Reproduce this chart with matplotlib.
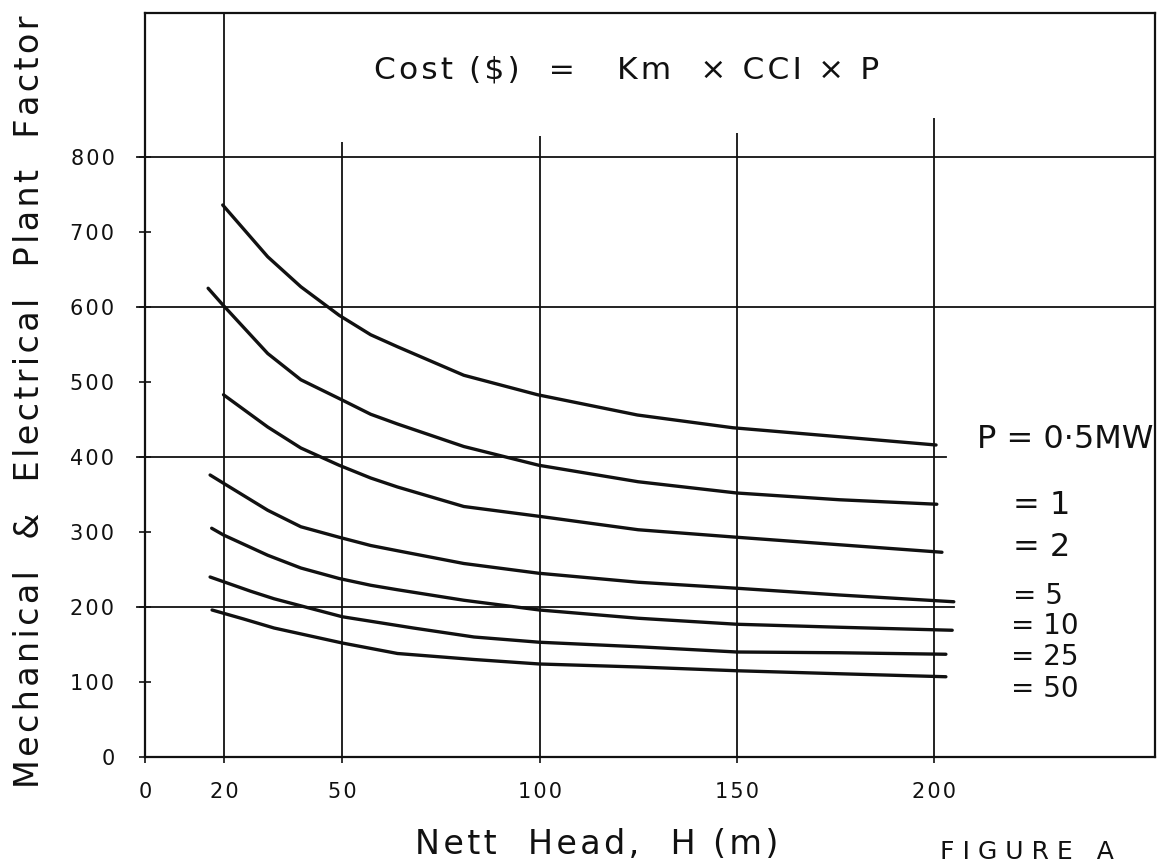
import matplotlib
matplotlib.use('Agg')
import matplotlib.pyplot as plt

# nett head (m) and M&E plant factor
head_05 = [19.7, 31.1, 39.5, 49.2, 57.2, 64, 80.8, 99.5, 124.8, 149, 176, 200.5]
factor_05 = [736, 667, 627, 589, 563, 547, 509, 483, 456, 439, 427, 416]

head_1 = [16, 19.7, 31.1, 39.5, 49.2, 57.2, 64, 80.8, 99.8, 125, 150, 176, 200.7]
factor_1 = [625, 603, 538, 503, 478, 457, 444, 414, 389, 367, 352, 343, 337]

head_2 = [19.9, 31.1, 39.5, 49.2, 57.2, 64, 80.8, 99.8, 125, 150, 176, 202]
factor_2 = [483, 440, 412, 389, 372, 360, 334, 321, 303, 293, 283, 273]

head_5 = [16.5, 19.9, 31.1, 39.5, 49.2, 57.2, 64, 80.8, 99.8, 125, 150, 176, 205]
factor_5 = [376, 365, 329, 307, 293, 282, 275, 258, 245, 233, 225, 216, 207]

head_10 = [16.9, 19.9, 31.1, 39.5, 49.2, 57.2, 64, 80.8, 100, 125, 150, 176, 204.6]
factor_10 = [305, 296, 269, 252, 238, 229, 223, 209, 196, 185, 177, 173, 169]

head_25 = [16.5, 26.8, 32.7, 50, 68, 83.4, 100, 125, 150, 176, 203]
factor_25 = [240, 221, 211, 187, 172, 160, 153, 147, 140, 139, 137]

head_50 = [17, 25, 32.7, 50, 64, 83.4, 100, 125, 150, 176, 203]
factor_50 = [196, 184, 172, 152, 138, 130, 124, 120, 115, 111, 107]

curves = [(head_05, factor_05), (head_1, factor_1), (head_2, factor_2),
          (head_5, factor_5), (head_10, factor_10), (head_25, factor_25),
          (head_50, factor_50)]

# right-hand curve labels: text, x, y, size
p_labels = ['P = 0·5MW', '= 1', '= 2', '= 5', '= 10', '= 25', '= 50']
p_label_x = [211, 220, 220, 220, 219.5, 219.5, 219.5]
p_label_y = [423, 335, 279, 215, 175, 133, 91]
p_label_size = [23, 23, 23, 20, 20, 20, 20]

x_ticks = [0, 20, 50, 100, 150, 200]
y_ticks = [0, 100, 200, 300, 400, 500, 600, 700, 800]

# partial grid as drawn on the original sheet: (value, extent)
v_grid = [(20, 992), (50, 820), (100, 828), (150, 832), (200, 852)]
h_grid = [(200, 205), (400, 203), (600, 256), (800, 256)]

ink = '#111111'
plt.rcParams['font.family'] = ['DejaVu Sans']


def spaced(s):
    # the sheet is lettered with a stencil, so open the letters out a bit
    return '\u200a'.join(s)


fig = plt.figure(figsize=(11.64, 8.66), dpi=100)
ax = fig.add_axes([145 / 1164, 109 / 866, 1010 / 1164, 744 / 866])
ax.set_xlim(0, 256)
ax.set_ylim(0, 992)

for x, top in v_grid:
    ax.plot([x, x], [0, top], color=ink, lw=1.3, solid_capstyle='butt')
for y, right in h_grid:
    ax.plot([-2, right], [y, y], color=ink, lw=1.3, clip_on=False)

for h, f in curves:
    ax.plot(h, f, color=ink, lw=2.4, solid_capstyle='round',
            solid_joinstyle='round')

for lab, x, y, fs in zip(p_labels, p_label_x, p_label_y, p_label_size):
    ax.text(x, y, lab, fontsize=fs, color=ink, va='center', ha='left')

ax.text(122, 916, spaced('Cost ($)  =   Km  × CCI × P'), fontsize=22.5,
        color=ink, ha='center', va='center')

for s in ax.spines.values():
    s.set_linewidth(1.6)
    s.set_color(ink)

ax.set_xticks(x_ticks)
ax.set_xticklabels([spaced(str(v)) for v in x_ticks])
ax.set_yticks(y_ticks)
ax.set_yticklabels([spaced(str(v)) for v in y_ticks])
ax.tick_params(axis='x', length=4, width=1.2, direction='out', pad=14,
               labelsize=15, colors=ink)
ax.tick_params(axis='y', length=8, width=1.2, direction='inout', pad=18,
               labelsize=15, colors=ink)

fig.text(30 / 1164, 1 - 402 / 866,
         spaced('Mechanical  &  Electrical  Plant  Factor'),
         rotation=90, fontsize=24, color=ink, ha='center', va='center')
fig.text(597 / 1164, 21 / 866, spaced('Nett  Head,  H (m)'), fontsize=24,
         color=ink, ha='center', va='center')
fig.text(940 / 1164, 2 / 866, 'F I G U R E   A', fontsize=18, color=ink,
         ha='left', va='bottom')

fig.savefig('out.png', dpi=100, facecolor='white')
